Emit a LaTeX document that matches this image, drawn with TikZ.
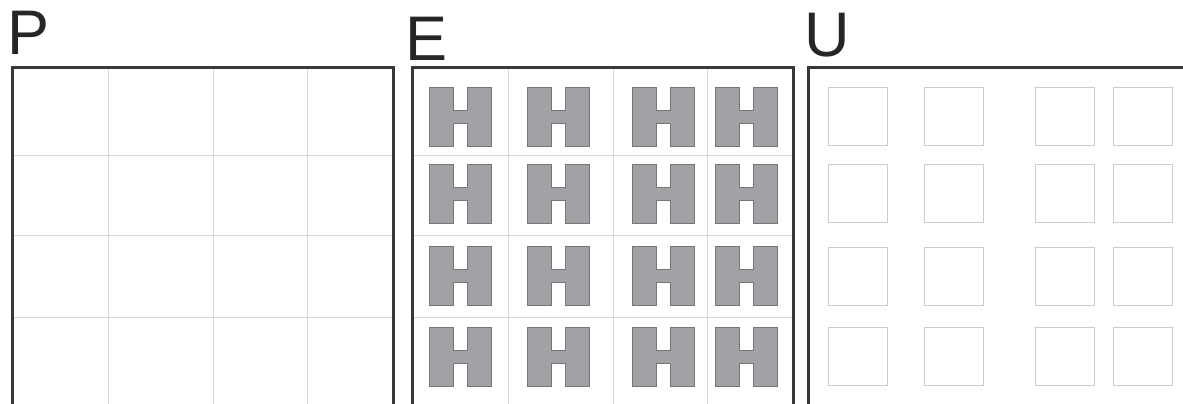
\documentclass[tikz,border=0pt]{standalone}
\usepackage{fontspec}
\setmainfont{Liberation Sans}
\definecolor{framegray}{HTML}{383838}
\definecolor{gridgray}{HTML}{D8D8D8}
\definecolor{hfillgray}{HTML}{A2A2A6}
\definecolor{hedgegray}{HTML}{767676}
\definecolor{boxgray}{HTML}{CCCCCC}
\tikzset{
    frame/.style={draw=framegray, line width=3pt},
    gridline/.style={draw=gridgray, line width=1pt},
    hblock/.style={fill=hfillgray, draw=hedgegray, line width=0.8pt},
    emptybox/.style={draw=boxgray, line width=1pt},
    panellabel/.style={anchor=base west, inner sep=0pt, font=\fontsize{63}{63}\selectfont, text=black!85}
}
\begin{document}
\begin{tikzpicture}[x=1pt,y=-1pt]
    % Fix the page to the reference size
    \useasboundingbox (0,0) rectangle (1183,404);

    % Panel labels
    \node[panellabel] (labP) at (7,55) {P};
    \node[panellabel] (labE) at (405,60) {E};
    \node[panellabel] (labU) at (804,57) {U};

    % Grid lines of panels P and E
    \foreach \off in {0,400} {
        \foreach \gx in {108,213,307}
            \draw[gridline] (\gx+\off,68) -- (\gx+\off,404);
        \foreach \gy in {155,235,317}
            \draw[gridline] (12+\off,\gy) -- (393+\off,\gy);
    }

    % H shaped blocks in panel E
    \foreach \hx in {429,527,632,715} {
        \foreach \hy in {87,164,246,327}
            \draw[hblock] (\hx,\hy) -- ++(24,0) -- ++(0,23) -- ++(14,0) -- ++(0,-23)
                -- ++(24,0) -- ++(0,59) -- ++(-24,0) -- ++(0,-23) -- ++(-14,0)
                -- ++(0,23) -- ++(-24,0) -- cycle;
    }

    % Empty squares in panel U
    \foreach \ux in {828,924,1035,1113} {
        \foreach \uy in {87,164,247,327}
            \draw[emptybox] (\ux,\uy) rectangle ++(59,58);
    }

    % Panel frames
    \draw[frame] (12,406) |- (393,68) -- (393,406);
    \draw[frame] (412,406) |- (793,68) -- (793,406);
    \draw[frame] (808,406) |- (1186,68);
\end{tikzpicture}
\end{document}
